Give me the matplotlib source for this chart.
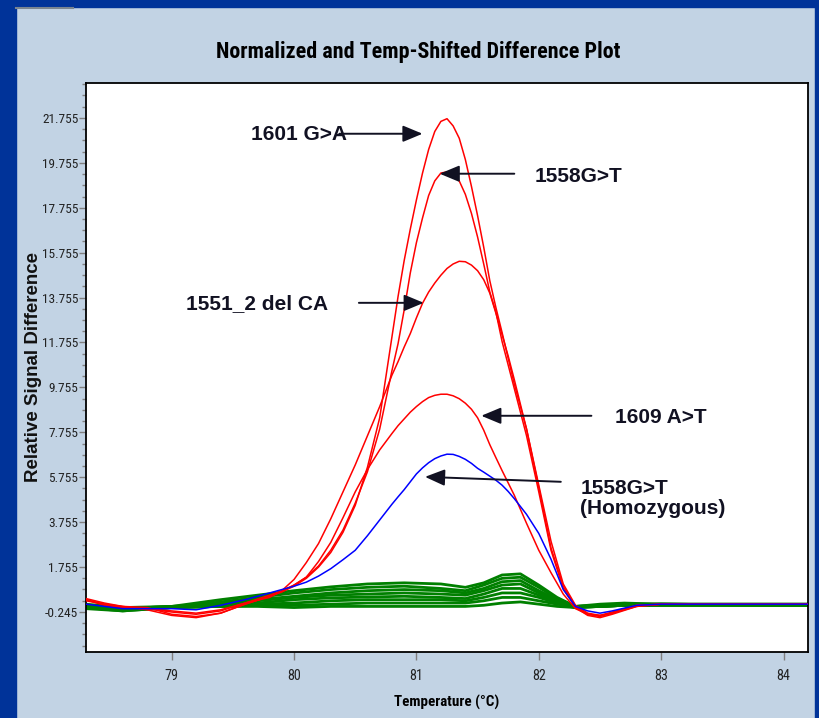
import numpy as np
import matplotlib
matplotlib.use("Agg")
import matplotlib.pyplot as plt
from matplotlib.patches import Rectangle
from matplotlib.lines import Line2D
from matplotlib.ticker import FixedLocator
import matplotlib.font_manager as fm

# ---------------- data ----------------
X_MAIN = [78.30, 78.45, 78.60, 78.80, 79.00, 79.20, 79.40, 79.60, 79.80, 79.90,
          80.00, 80.10, 80.20, 80.30, 80.40, 80.50, 80.60, 80.70,
          80.80, 80.85, 80.90, 80.95, 81.00, 81.05, 81.10, 81.15, 81.20, 81.25,
          81.30, 81.35, 81.40, 81.45, 81.50, 81.55, 81.60, 81.65, 81.70, 81.75, 81.80,
          81.90, 82.00, 82.10, 82.20, 82.30, 82.40, 82.50, 82.60, 82.80, 83.00, 83.20, 84.20]

RED_1601 = [0.35, 0.15, 0.00, -0.05, -0.35, -0.45, -0.30, 0.10, 0.45, 0.65,
            0.90, 1.25, 1.75, 2.40, 3.30, 4.50, 6.20, 8.40,
            12.0, 13.8, 15.4, 16.8, 18.1, 19.3, 20.35, 21.15, 21.6, 21.72,
            21.4, 20.85, 19.9, 18.7, 17.4, 16.0, 14.5, 13.3, 12.2, 11.05, 9.9,
            7.9, 5.3, 2.6, 0.90, 0.00, -0.35, -0.45, -0.30, 0.05, 0.10, 0.10, 0.10]

RED_1558 = [0.25, 0.10, -0.05, -0.10, -0.25, -0.35, -0.20, 0.15, 0.50, 0.70,
            0.95, 1.30, 1.80, 2.50, 3.40, 4.60, 6.00, 7.90,
            10.5, 11.7, 13.2, 14.85, 16.2, 17.3, 18.3, 18.95, 19.3, 19.35,
            19.2, 18.95, 18.35, 17.5, 16.45, 15.25, 14.0, 13.1, 11.8, 10.75, 9.7,
            7.6, 5.1, 2.5, 0.80, -0.05, -0.40, -0.50, -0.35, 0.00, 0.10, 0.10, 0.10]

RED_1551 = [0.30, 0.05, -0.05, -0.10, -0.20, -0.30, -0.15, 0.15, 0.40, 0.70,
            1.20, 1.95, 2.80, 3.90, 5.10, 6.30, 7.60, 8.90,
            10.3, 10.9, 11.55, 12.15, 12.85, 13.5, 14.0, 14.4, 14.75, 15.05,
            15.25, 15.37, 15.35, 15.2, 14.95, 14.55, 13.95, 13.05, 12.1, 11.15, 10.1,
            7.9, 5.4, 2.9, 1.00, 0.05, -0.30, -0.40, -0.30, 0.00, 0.10, 0.10, 0.10]

RED_1609 = [0.30, 0.10, 0.00, -0.15, -0.40, -0.50, -0.30, 0.10, 0.45, 0.65,
            0.95, 1.30, 2.00, 2.85, 3.95, 5.10, 6.10, 6.97,
            7.70, 8.05, 8.35, 8.65, 8.90, 9.12, 9.30, 9.40, 9.45, 9.45,
            9.38, 9.25, 9.05, 8.78, 8.40, 7.85, 7.20, 6.62, 6.05, 5.50, 4.95,
            3.70, 2.50, 1.50, 0.55, -0.10, -0.35, -0.40, -0.25, 0.05, 0.10, 0.10, 0.10]

BLUE_HOMO = [0.10, 0.00, -0.10, -0.10, -0.10, -0.15, 0.05, 0.30, 0.60, 0.75,
             0.90, 1.08, 1.35, 1.68, 2.08, 2.50, 3.15, 3.85,
             4.55, 4.88, 5.20, 5.55, 5.90, 6.17, 6.40, 6.58, 6.70, 6.78,
             6.77, 6.68, 6.55, 6.37, 6.15, 5.98, 5.80, 5.62, 5.40, 5.12, 4.80,
             4.10, 3.25, 2.10, 0.75, 0.00, -0.20, -0.30, -0.20, 0.05, 0.10, 0.10, 0.10]

X_GREEN = [78.30, 78.60, 79.00, 79.40, 79.70, 80.00, 80.30, 80.60, 80.90, 81.20,
           81.40, 81.55, 81.70, 81.85, 82.00, 82.15, 82.30, 82.50, 82.70, 83.00, 84.20]

GREEN_1 = [0.05, -0.10, 0.00, 0.30, 0.50, 0.70, 0.87, 1.00, 1.05, 1.00, 0.85, 1.05, 1.40, 1.45, 0.95, 0.40, 0.00, 0.10, 0.15, 0.10, 0.10]
GREEN_2 = [0.00, -0.15, -0.05, 0.20, 0.40, 0.60, 0.75, 0.85, 0.90, 0.80, 0.70, 0.95, 1.25, 1.30, 0.85, 0.35, 0.00, 0.05, 0.10, 0.10, 0.10]
GREEN_3 = [-0.05, -0.20, -0.05, 0.15, 0.30, 0.45, 0.60, 0.70, 0.75, 0.70, 0.60, 0.80, 1.10, 1.15, 0.70, 0.30, 0.00, 0.05, 0.10, 0.10, 0.05]
GREEN_4 = [0.10, -0.05, 0.00, 0.10, 0.25, 0.40, 0.50, 0.55, 0.60, 0.55, 0.50, 0.70, 0.95, 1.00, 0.60, 0.25, 0.00, 0.00, 0.05, 0.10, 0.05]
GREEN_5 = [0.00, -0.10, 0.00, 0.05, 0.15, 0.30, 0.38, 0.42, 0.45, 0.40, 0.35, 0.55, 0.80, 0.80, 0.50, 0.20, 0.00, 0.00, 0.05, 0.10, 0.05]
GREEN_6 = [-0.10, -0.20, -0.05, 0.00, 0.10, 0.15, 0.25, 0.30, 0.30, 0.30, 0.25, 0.40, 0.60, 0.60, 0.40, 0.15, -0.05, 0.00, 0.05, 0.05, 0.05]
GREEN_7 = [0.05, -0.10, -0.05, 0.00, 0.05, 0.05, 0.10, 0.15, 0.15, 0.15, 0.15, 0.25, 0.40, 0.40, 0.25, 0.10, -0.05, 0.00, 0.05, 0.05, 0.05]
GREEN_8 = [-0.05, -0.15, -0.05, 0.00, 0.00, -0.05, 0.00, 0.00, 0.00, 0.00, 0.00, 0.05, 0.15, 0.20, 0.10, 0.00, -0.05, 0.00, 0.05, 0.05, 0.05]

Y_TICKS = [-0.245, 1.755, 3.755, 5.755, 7.755, 9.755, 11.755, 13.755, 15.755, 17.755, 19.755, 21.755]
Y_TICK_LABELS = ["-0.245", "1.755", "3.755", "5.755", "7.755", "9.755", "11.755",
                 "13.755", "15.755", "17.755", "19.755", "21.755"]
X_TICKS = [79, 80, 81, 82, 83, 84]
X_TICK_LABELS = ["79", "80", "81", "82", "83", "84"]

TITLE = "Normalized and Temp-Shifted Difference Plot"
XLABEL = "Temperature (°C)"
YLABEL = "Relative Signal Difference"

# annotations: text, text position, arrow tail, arrow tip (data coords)
ANNOTATIONS = [
    ("1601 G>A", (79.65, 21.0), (80.37, 21.05), (81.05, 21.05)),
    ("1558G>T", (81.97, 19.13), (81.80, 19.27), (81.19, 19.27)),
    ("1551_2 del CA", (79.12, 13.48), (80.53, 13.52), (81.06, 13.52)),
    ("1609 A>T", (82.62, 8.40), (82.43, 8.49), (81.53, 8.49)),
    ("1558G>T\n(Homozygous)", (82.34, 4.80), (82.18, 5.55), (81.07, 5.77)),
]

# ---------------- fonts ----------------
names = {f.name for f in fm.fontManager.ttflist}
NARROW, narrow_stretch = "DejaVu Sans", "condensed"
for cand in ["Liberation Sans Narrow", "Roboto Condensed", "Open Sans Condensed"]:
    if cand in names:
        NARROW, narrow_stretch = cand, "normal"
        break
ARIAL = "Liberation Sans" if "Liberation Sans" in names else "DejaVu Sans"

BG = "#c2d3e4"
FRAME = "#003399"

fig = plt.figure(figsize=(8.2, 7.18), dpi=100, facecolor=BG)
W, H = 820.0, 718.0

def fx(px):
    return px / W

def fy(py):
    return 1 - py / H

# blue slide frame
fig.patches.append(Rectangle((0, fy(7)), 1, 7 / H, transform=fig.transFigure, color=FRAME, zorder=0))
fig.patches.append(Rectangle((0, 0), 16 / W, 1, transform=fig.transFigure, color=FRAME, zorder=0))
fig.patches.append(Rectangle((fx(815), 0), 5 / W, 1, transform=fig.transFigure, color=FRAME, zorder=0))
fig.lines.append(Line2D([fx(16), fx(73)], [fy(8), fy(8)], transform=fig.transFigure, color="#7a8590", lw=1.5))

ax = fig.add_axes([fx(86), fy(652), fx(808) - fx(86), fy(83) - fy(652)])
ax.set_facecolor("white")
ax.set_xlim(78.30, 84.20)
ax.set_ylim(-2.03, 23.31)

green_series = [GREEN_1, GREEN_2, GREEN_3, GREEN_4, GREEN_5, GREEN_6, GREEN_7, GREEN_8]
for g in green_series:
    ax.plot(X_GREEN, g, color="#008000", lw=2.0, zorder=2)

for r in [RED_1601, RED_1558, RED_1551, RED_1609]:
    ax.plot(X_MAIN, r, color="#ff0000", lw=1.1, zorder=3)
ax.plot(X_MAIN, BLUE_HOMO, color="#0000ff", lw=1.1, zorder=3)

for txt, tpos, tail, tip in ANNOTATIONS:
    ax.text(tpos[0], tpos[1], txt, ha="left", va="center", fontsize=15, fontweight="bold",
            family=ARIAL, color="#111122", zorder=5, linespacing=1.1)
    ax.annotate("", xy=tip, xytext=tail,
                arrowprops=dict(arrowstyle="-|>,head_length=0.6,head_width=0.25",
                                color="#111122", lw=1.4, mutation_scale=20,
                                shrinkA=0, shrinkB=0), zorder=6)

# axes styling
for s in ax.spines.values():
    s.set_color("black")
    s.set_linewidth(1.3)

ax.xaxis.set_major_locator(FixedLocator(X_TICKS))
ax.set_xticklabels(X_TICK_LABELS)
ax.yaxis.set_major_locator(FixedLocator(Y_TICKS))
ax.set_yticklabels(Y_TICK_LABELS)
ax.yaxis.set_minor_locator(FixedLocator([v + d for v in [-2.245] + Y_TICKS for d in (0.5, 1.0, 1.5)
                                         if -2.03 < v + d < 23.31]))

tick_size = 9.6 if narrow_stretch == "normal" else 8.6
ax.tick_params(axis="x", which="major", direction="out", length=6, width=1, color="#808080",
               pad=6, labelsize=tick_size + 0.6, labelcolor="#222222")
ax.tick_params(axis="y", which="major", direction="out", length=5, width=1, color="#808080",
               pad=0.5, labelsize=tick_size, labelcolor="#222222")
ax.tick_params(axis="y", which="minor", direction="out", length=3, width=1, color="#808080")
for lab in ax.get_xticklabels() + ax.get_yticklabels():
    lab.set_family(NARROW)
    lab.set_stretch(narrow_stretch)

ax.set_ylabel(YLABEL, fontsize=13.5, fontweight="bold", family=ARIAL, color="#111111")
ax.yaxis.set_label_coords((42 - 86) / 722.0, 0.5)

title_size = 15.8 if narrow_stretch == "normal" else 12.8
xlabel_size = 10.8 if narrow_stretch == "normal" else 9.5
fig.text(fx(418), fy(52), TITLE, ha="center", va="center", fontsize=title_size, fontweight="bold",
         family=NARROW, stretch=narrow_stretch, color="#000000")
fig.text(fx(447), fy(702), XLABEL, ha="center", va="center", fontsize=xlabel_size, fontweight="bold",
         family=NARROW, stretch=narrow_stretch, color="#000000")

fig.savefig("out.png", dpi=100, facecolor=BG)
